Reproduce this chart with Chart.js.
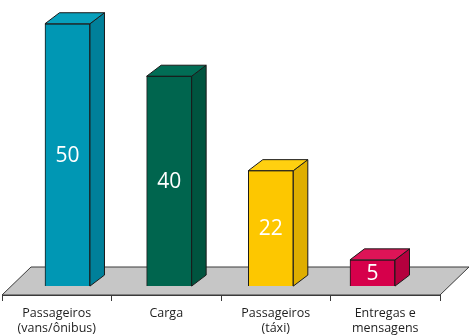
<!DOCTYPE html>
<html>
<head>
<meta charset="utf-8">
<script src="https://cdn.jsdelivr.net/npm/chart.js@4"></script>
<style>
  html, body { margin: 0; padding: 0; background: #fff; }
  #wrap { width: 470px; height: 335px; }
</style>
</head>
<body>
<div id="wrap"><canvas id="grafico"></canvas></div>
<script>
const categorias = [
  ['Passageiros', '(vans/ônibus)'],
  ['Carga'],
  ['Passageiros', '(táxi)'],
  ['Entregas e', 'mensagens']
];
const valores = [50, 40, 22, 5];
const coresFrente = ['#0097b4', '#00654e', '#fdc700', '#d6004b'];
const coresLado = ['#00809a', '#00543f', '#dfae00', '#b4003e'];
const coresTopo = ['#07a0bc', '#016d55', '#ffd010', '#de1457'];

// profundidade do efeito 3D
const prof = { dx: 14.5, dy: -11 };
const chao = { dx: 29, dy: -28 };

const efeito3d = {
  id: 'efeito3d',
  beforeDatasetsDraw(chart) {
    const { ctx, chartArea } = chart;
    const b = chartArea.bottom, l = chartArea.left, r = chartArea.right;
    ctx.save();
    ctx.beginPath();
    ctx.moveTo(l, b);
    ctx.lineTo(r, b);
    ctx.lineTo(r + chao.dx, b + chao.dy);
    ctx.lineTo(l + chao.dx, b + chao.dy);
    ctx.closePath();
    ctx.fillStyle = '#c6c6c6';
    ctx.fill();
    ctx.strokeStyle = '#3a3a3a';
    ctx.lineWidth = 1;
    ctx.stroke();
    ctx.restore();
  },
  afterDatasetsDraw(chart) {
    const { ctx } = chart;
    const meta = chart.getDatasetMeta(0);
    ctx.save();
    ctx.lineWidth = 1;
    ctx.strokeStyle = '#1a1a1a';
    ctx.lineJoin = 'round';
    meta.data.forEach((bar, i) => {
      const p = bar.getProps(['x', 'y', 'base', 'width'], true);
      const esq = p.x - p.width / 2, dir = p.x + p.width / 2;
      // lado
      ctx.beginPath();
      ctx.moveTo(dir, p.y);
      ctx.lineTo(dir + prof.dx, p.y + prof.dy);
      ctx.lineTo(dir + prof.dx, p.base + prof.dy);
      ctx.lineTo(dir, p.base);
      ctx.closePath();
      ctx.fillStyle = coresLado[i];
      ctx.fill();
      ctx.stroke();
      // topo
      ctx.beginPath();
      ctx.moveTo(esq, p.y);
      ctx.lineTo(esq + prof.dx, p.y + prof.dy);
      ctx.lineTo(dir + prof.dx, p.y + prof.dy);
      ctx.lineTo(dir, p.y);
      ctx.closePath();
      ctx.fillStyle = coresTopo[i];
      ctx.fill();
      ctx.stroke();
      // valor
      ctx.fillStyle = '#ffffff';
      ctx.font = '21px "Open Sans", sans-serif';
      ctx.textAlign = 'center';
      ctx.textBaseline = 'middle';
      ctx.fillText(String(valores[i]), p.x, (p.y + p.base) / 2 + 1);
    });
    ctx.restore();
  }
};

new Chart(document.getElementById('grafico'), {
  type: 'bar',
  data: {
    labels: categorias,
    datasets: [{
      data: valores.map((v, i) => ({ x: i, y: v })),
      xAxisID: 'xb',
      backgroundColor: coresFrente,
      borderColor: '#1a1a1a',
      borderWidth: 1,
      barThickness: 45
    }]
  },
  plugins: [efeito3d],
  options: {
    responsive: true,
    maintainAspectRatio: false,
    animation: false,
    layout: { padding: { left: 2, right: 30, top: 8, bottom: 0 } },
    plugins: { legend: { display: false }, tooltip: { enabled: false } },
    scales: {
      x: {
        type: 'category',
        position: 'bottom',
        offset: true,
        grid: {
          offset: true,
          drawOnChartArea: false,
          drawTicks: true,
          tickLength: 6,
          color: '#3a3a3a'
        },
        border: { display: true, color: '#3a3a3a' },
        ticks: {
          color: '#1e1e1e',
          padding: 5,
          maxRotation: 0,
          autoSkip: false,
          font: { family: '"Open Sans", sans-serif', size: 12.5, lineHeight: 1.2 }
        },
        afterFit(scale) { scale.height = 40; }
      },
      xb: {
        type: 'linear',
        display: false,
        offset: false,
        grid: { offset: false },
        min: -0.644,
        max: 3.664
      },
      y: {
        display: false,
        min: -1.7,
        max: 53
      }
    }
  }
});
</script>
</body>
</html>
